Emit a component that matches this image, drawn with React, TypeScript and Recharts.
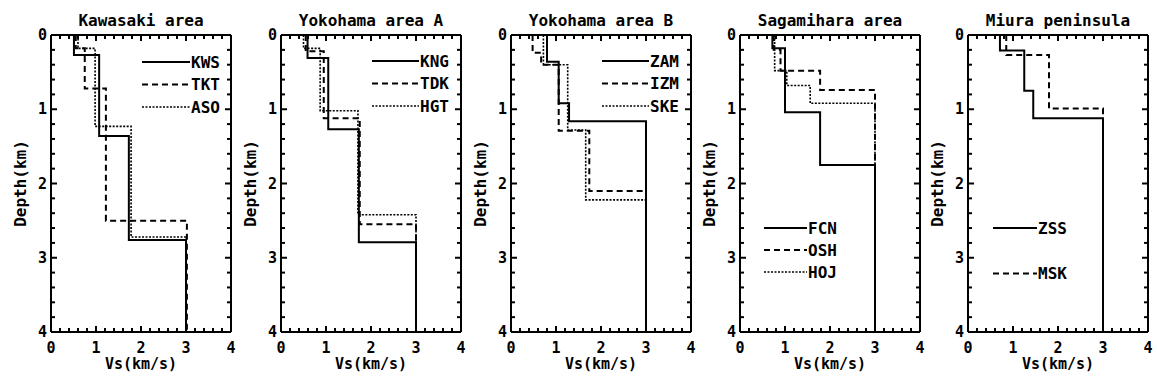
import { LineChart, Line, XAxis, YAxis } from 'recharts'

// layer velocity (km/s) and layer bottom depth (km), top layer first
const KWS_VS = [0.51, 1.07, 1.73, 3.0]
const KWS_BOTTOM = [0.27, 1.36, 2.76, 4]
const TKT_VS = [0.55, 0.75, 1.22, 3.02]
const TKT_BOTTOM = [0.18, 0.72, 2.5, 4]
const ASO_VS = [0.6, 0.98, 1.78, 3.0]
const ASO_BOTTOM = [0.18, 1.23, 2.72, 4]

const KNG_VS = [0.59, 1.05, 1.73, 3.0]
const KNG_BOTTOM = [0.31, 1.27, 2.79, 4]
const TDK_VS = [0.55, 0.95, 1.75, 3.0]
const TDK_BOTTOM = [0.22, 1.12, 2.55, 4]
const HGT_VS = [0.5, 0.87, 1.71, 3.0]
const HGT_BOTTOM = [0.18, 1.02, 2.42, 4]

const ZAM_VS = [0.8, 1.06, 1.29, 3.0]
const ZAM_BOTTOM = [0.36, 0.92, 1.16, 4]
const IZM_VS = [0.48, 0.67, 1.06, 1.74, 3.0]
const IZM_BOTTOM = [0.24, 0.4, 1.29, 2.1, 4]
const SKE_VS = [0.72, 1.26, 1.66, 3.0]
const SKE_BOTTOM = [0.4, 1.28, 2.22, 4]

const FCN_VS = [0.72, 1.0, 1.78, 3.0]
const FCN_BOTTOM = [0.18, 1.04, 1.75, 4]
const OSH_VS = [0.75, 0.9, 1.78, 3.0]
const OSH_BOTTOM = [0.2, 0.48, 0.74, 4]
const HOJ_VS = [0.77, 1.04, 1.56, 3.0]
const HOJ_BOTTOM = [0.48, 0.68, 0.92, 4]

const ZSS_VS = [0.71, 1.25, 1.45, 3.0]
const ZSS_BOTTOM = [0.21, 0.75, 1.12, 4]
const MSK_VS = [0.85, 1.8, 3.0]
const MSK_BOTTOM = [0.27, 0.99, 4]

const TITLES = ['Kawasaki area', 'Yokohama area A', 'Yokohama area B', 'Sagamihara area', 'Miura peninsula']

const TICKS = [0, 0.2, 0.4, 0.6, 0.8, 1, 1.2, 1.4, 1.6, 1.8, 2, 2.2, 2.4, 2.6, 2.8, 3, 3.2, 3.4, 3.6, 3.8, 4]
const MAJOR = [0, 1, 2, 3, 4]

const FONT = '"DejaVu Sans Mono", "Liberation Mono", monospace'
const AXIS = { stroke: '#000', strokeWidth: 2 }
const PLOT_W = 180
const PLOT_H = 297

const STYLES = [
  { dash: undefined, width: 2 },
  { dash: '6 4', width: 2 },
  { dash: '2 1.5', width: 1.6 },
]

type Station = { name: string; vs: number[]; bottom: number[]; style: number }

const PANELS: { stations: Station[]; legend: { left: number; top: number; gap: number; line: number } }[] = [
  {
    stations: [
      { name: 'KWS', vs: KWS_VS, bottom: KWS_BOTTOM, style: 0 },
      { name: 'TKT', vs: TKT_VS, bottom: TKT_BOTTOM, style: 1 },
      { name: 'ASO', vs: ASO_VS, bottom: ASO_BOTTOM, style: 2 },
    ],
    legend: { left: 142, top: 62, gap: 22.5, line: 48 },
  },
  {
    stations: [
      { name: 'KNG', vs: KNG_VS, bottom: KNG_BOTTOM, style: 0 },
      { name: 'TDK', vs: TDK_VS, bottom: TDK_BOTTOM, style: 1 },
      { name: 'HGT', vs: HGT_VS, bottom: HGT_BOTTOM, style: 2 },
    ],
    legend: { left: 142, top: 61, gap: 22.5, line: 47 },
  },
  {
    stations: [
      { name: 'ZAM', vs: ZAM_VS, bottom: ZAM_BOTTOM, style: 0 },
      { name: 'IZM', vs: IZM_VS, bottom: IZM_BOTTOM, style: 1 },
      { name: 'SKE', vs: SKE_VS, bottom: SKE_BOTTOM, style: 2 },
    ],
    legend: { left: 142, top: 61, gap: 22.5, line: 47 },
  },
  {
    stations: [
      { name: 'FCN', vs: FCN_VS, bottom: FCN_BOTTOM, style: 0 },
      { name: 'OSH', vs: OSH_VS, bottom: OSH_BOTTOM, style: 1 },
      { name: 'HOJ', vs: HOJ_VS, bottom: HOJ_BOTTOM, style: 2 },
    ],
    legend: { left: 75, top: 228, gap: 22, line: 43 },
  },
  {
    stations: [
      { name: 'ZSS', vs: ZSS_VS, bottom: ZSS_BOTTOM, style: 0 },
      { name: 'MSK', vs: MSK_VS, bottom: MSK_BOTTOM, style: 1 },
    ],
    legend: { left: 76, top: 228, gap: 45.5, line: 44 },
  },
]

// where each chart box sits on the page
const CHART_LEFT = [0, 230, 460, 689, 917]

// turn layers into a step profile: each layer is a vertical run at its Vs
function stepPoints(vs: number[], bottom: number[]) {
  const pts: { vs: number; depth: number }[] = []
  let top = 0
  vs.forEach((v, i) => {
    pts.push({ vs: v, depth: top })
    pts.push({ vs: v, depth: bottom[i] })
    top = bottom[i]
  })
  return pts
}

const textStyle = { fontFamily: FONT, fontWeight: 'bold' as const, fill: '#000' }

// bottom ticks, mirrored onto the top edge of the frame
const makeBottomTick = () => (props: any) => {
  const { x, y, payload } = props
  const len = MAJOR.includes(payload.value) ? 6 : 4
  return (
    <g>
      <line x1={x} x2={x} y1={y} y2={y - len} stroke="#000" strokeWidth={2} />
      <line x1={x} x2={x} y1={y - PLOT_H} y2={y - PLOT_H + len} stroke="#000" strokeWidth={2} />
      {MAJOR.includes(payload.value) && (
        <text x={x} y={y + 21} textAnchor="middle" fontSize={15} style={textStyle}>
          {payload.value}
        </text>
      )}
    </g>
  )
}

// left ticks, mirrored onto the right edge of the frame
const makeLeftTick = () => (props: any) => {
  const { x, y, payload } = props
  const len = MAJOR.includes(payload.value) ? 6 : 4
  return (
    <g>
      <line x1={x} x2={x + len} y1={y} y2={y} stroke="#000" strokeWidth={2} />
      <line x1={x + PLOT_W} x2={x + PLOT_W - len} y1={y} y2={y} stroke="#000" strokeWidth={2} />
      {MAJOR.includes(payload.value) && (
        <text x={x - 4} y={y + 5} textAnchor="end" fontSize={15} style={textStyle}>
          {payload.value}
        </text>
      )}
    </g>
  )
}

const TitleLabel = (props: any) => {
  const vb = props.viewBox || { x: 51, y: 30, width: 180, height: 5 }
  return (
    <text x={vb.x + vb.width / 2} y={vb.y - 4} textAnchor="middle" fontSize={16} style={textStyle}>
      {props.text}
    </text>
  )
}

// legend and axis titles, drawn over the chart box
function Overlay({ stations, lg }: { stations: Station[]; lg: { left: number; top: number; gap: number; line: number } }) {
  const dx = 20
  const dy = 35 + PLOT_H / 2
  return (
    <svg width={240} height={386} style={{ position: 'absolute', left: 0, top: 0, pointerEvents: 'none' }}>
      {stations.map((s, i) => {
        const y = lg.top + i * lg.gap
        const st = STYLES[s.style]
        return (
          <g key={s.name}>
            <line
              x1={lg.left}
              x2={lg.left + lg.line}
              y1={y}
              y2={y}
              stroke="#000"
              strokeWidth={st.width}
              strokeDasharray={st.dash}
            />
            <text x={lg.left + lg.line + 1} y={y + 5.5} fontSize={16} style={textStyle}>
              {s.name}
            </text>
          </g>
        )
      })}
      <text x={51 + PLOT_W / 2} y={369} textAnchor="middle" fontSize={15} style={textStyle}>
        Vs(km/s)
      </text>
      <text x={dx} y={dy + 5.5} transform={`rotate(-90 ${dx} ${dy})`} textAnchor="middle" fontSize={16} style={textStyle}>
        Depth(km)
      </text>
    </svg>
  )
}

function Panel({ index }: { index: number }) {
  const panel = PANELS[index]
  const BottomTick = makeBottomTick()
  const LeftTick = makeLeftTick()
  return (
    <div style={{ position: 'absolute', left: CHART_LEFT[index], top: 0, width: 240, height: 386 }}>
      <LineChart width={240} height={386} margin={{ top: 30, right: 4, bottom: 14, left: 11 }}>
        <XAxis
          xAxisId="b"
          type="number"
          dataKey="vs"
          domain={[0, 4]}
          ticks={TICKS}
          interval={0}
          tickSize={0}
          tickMargin={0}
          tickLine={false}
          axisLine={AXIS}
          tick={BottomTick}
          height={40}
        />
        <XAxis
          xAxisId="t"
          orientation="top"
          type="number"
          dataKey="vs"
          domain={[0, 4]}
          ticks={TICKS}
          interval={0}
          tickSize={0}
          tickMargin={0}
          tickLine={false}
          axisLine={AXIS}
          tick={false}
          height={5}
          label={<TitleLabel text={TITLES[index]} />}
        />
        <YAxis
          yAxisId="l"
          type="number"
          dataKey="depth"
          reversed
          domain={[0, 4]}
          ticks={TICKS}
          interval={0}
          tickSize={0}
          tickMargin={0}
          tickLine={false}
          axisLine={AXIS}
          tick={LeftTick}
          width={40}
        />
        <YAxis
          yAxisId="r"
          orientation="right"
          type="number"
          reversed
          domain={[0, 4]}
          tick={false}
          tickLine={false}
          axisLine={AXIS}
          width={5}
        />
        {panel.stations.map((s) => (
          <Line
            key={s.name}
            xAxisId="b"
            yAxisId="l"
            data={stepPoints(s.vs, s.bottom)}
            dataKey="depth"
            name={s.name}
            stroke="#000"
            strokeWidth={STYLES[s.style].width}
            strokeDasharray={STYLES[s.style].dash}
            dot={false}
            activeDot={false}
            type="linear"
            isAnimationActive={false}
          />
        ))}
      </LineChart>
      <Overlay stations={panel.stations} lg={panel.legend} />
    </div>
  )
}

export default function App() {
  return (
    <div style={{ position: 'absolute', left: 0, top: 0, width: 1157, height: 386, background: '#fff' }}>
      {PANELS.map((_, i) => (
        <Panel key={i} index={i} />
      ))}
    </div>
  )
}
